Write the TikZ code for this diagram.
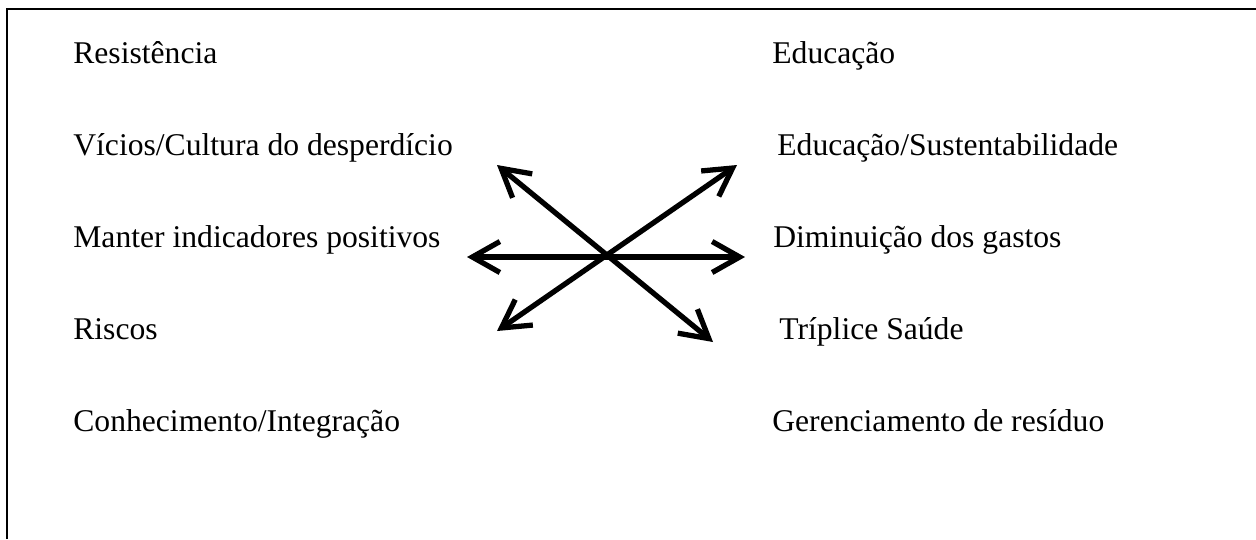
\documentclass[tikz,border=0pt]{standalone}
\usepackage{fontspec}
\setmainfont{Liberation Serif}
\usetikzlibrary{arrows.meta}

\begin{document}
\begin{tikzpicture}[x=0.02cm, y=-0.02cm,
		rotulo/.style={anchor=base west, inner sep=0pt, font=\fontsize{18}{21}\selectfont},
		setas/.style={line width=3pt, line cap=round, line join=round,
			{Straight Barb[length=0.55cm, width=0.62cm]}-{Straight Barb[length=0.55cm, width=0.62cm]}}]
		\useasboundingbox (0,0) rectangle (1256,539);
		\draw[line width=1.1pt] (7,539) -- (7,9) -- (1256,9);
		% left column
		\node[rotulo] (resist) at (73,63) {Resistência};
		\node[rotulo] (vicios) at (73,155) {Vícios/Cultura do desperdício};
		\node[rotulo] (manter) at (73,247) {Manter indicadores positivos};
		\node[rotulo] (riscos) at (73,339) {Riscos};
		\node[rotulo] (conhec) at (73,431) {Conhecimento/Integração};
		% right column
		\node[rotulo] (educ) at (772,63) {Educação};
		\node[rotulo] (educsust) at (777,155) {Educação/Sustentabilidade};
		\node[rotulo] (dimin) at (773,247) {Diminuição dos gastos};
		\node[rotulo] (triplice) at (779,339) {Tríplice Saúde};
		\node[rotulo] (gerenc) at (772,431) {Gerenciamento de resíduo};
		% arrows
		\coordinate (esq) at (467,257);
		\coordinate (dir) at (745,257);
		\coordinate (supesq) at (497,165);
		\coordinate (infdir) at (713,342);
		\coordinate (supdir) at (737,165);
		\coordinate (infesq) at (497,331);
		\draw[setas] (esq) -- (dir);
		\draw[setas] (supesq) -- (infdir);
		\draw[setas] (supdir) -- (infesq);
	\end{tikzpicture}
\end{document}
